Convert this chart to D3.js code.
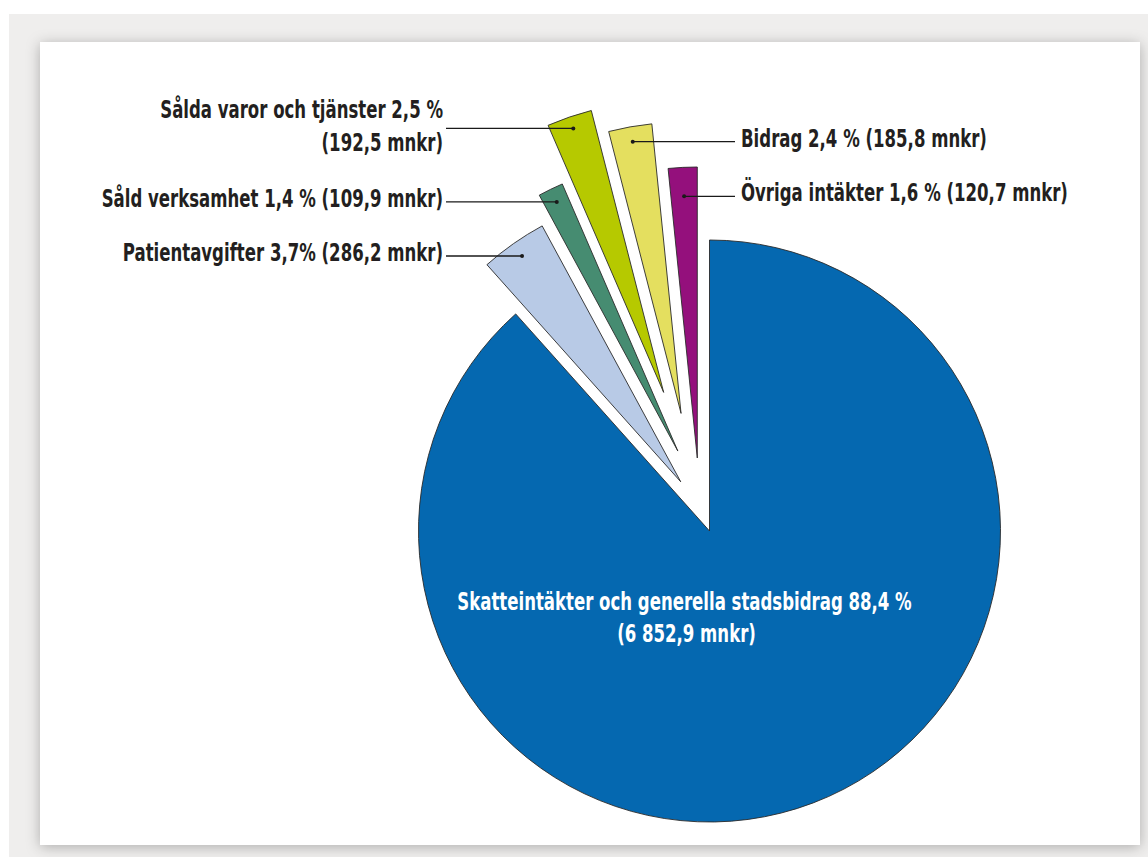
<!DOCTYPE html>
<html>
<head>
<meta charset="utf-8">
<script src="https://cdn.jsdelivr.net/npm/d3@7"></script>
<style>
  html, body { margin: 0; padding: 0; background: #fff; }
  svg { display: block; }
  text { font-family: 'Liberation Sans Narrow', 'DejaVu Sans Condensed', 'Roboto', sans-serif; font-weight: bold; }
</style>
</head>
<body>
<div class="svg-container"></div>
<script>
const categories = [
  'Skatteintäkter och generella stadsbidrag',
  'Patientavgifter',
  'Såld verksamhet',
  'Sålda varor och tjänster',
  'Bidrag',
  'Övriga intäkter'
]
const shares = [88.4, 3.7, 1.4, 2.5, 2.4, 1.6]
const amounts = ['6 852,9', '286,2', '109,9', '192,5', '185,8', '120,7']
const shareLabels = ['88,4 %', '3,7%', '1,4 %', '2,5 %', '2,4 %', '1,6 %']

const colors = ['#0568b0', '#b8cae6', '#468c71', '#b6c900', '#e4df5f', '#94107c']
// how far each slice is pulled out of the pie: [distance, direction in degrees]
const explode = [[0, 0], [57, 329.7], [86, 338.4], [146, 341.7], [121, 346.4], [74, 350.5]]
const labelSide = [null, 'left', 'left', 'left', 'right', 'right']
// distance from the slice tip to the leader dot
const dotRadius = [0, 276, 277, 279, 276, 262]

const width = 1148
const height = 857
const cx = 709.5
const cy = 531
const radius = 291
const squeeze = 0.767 // the original uses a condensed face

const svg = d3
  .select('.svg-container')
  .append('svg')
  .attr('width', width)
  .attr('height', height)

const defs = svg.append('defs')
const shadow = defs.append('filter')
  .attr('id', 'shadow')
  .attr('x', '-5%').attr('y', '-5%')
  .attr('width', '110%').attr('height', '110%')
shadow.append('feDropShadow')
  .attr('dx', 0)
  .attr('dy', 2)
  .attr('stdDeviation', 7)
  .attr('flood-color', '#000')
  .attr('flood-opacity', 0.28)

// page background and white panel
svg.append('rect')
  .attr('x', 9).attr('y', 14)
  .attr('width', width - 9).attr('height', height - 14)
  .attr('fill', '#efeeed')

svg.append('rect')
  .attr('x', 40).attr('y', 42)
  .attr('width', 1100).attr('height', 803)
  .attr('fill', '#fff')
  .attr('filter', 'url(#shadow)')

const pie = d3.pie().sort(null).value((d) => d)
const arcs = pie(shares)

const arc = d3.arc().innerRadius(0).outerRadius(radius)

const toRad = (deg) => deg * Math.PI / 180
const offset = (i) => {
  const [dist, deg] = explode[i]
  return [Math.sin(toRad(deg)) * dist, -Math.cos(toRad(deg)) * dist]
}

svg
  .append('g')
  .attr('transform', `translate(${cx}, ${cy})`)
  .selectAll('.slice')
  .data(arcs)
  .join('path')
  .classed('slice', true)
  .attr('transform', (d, i) => `translate(${offset(i)})`)
  .attr('d', arc)
  .attr('fill', (d, i) => colors[i])
  .attr('stroke', '#2a2a2a')
  .attr('stroke-width', 0.9)
  .attr('stroke-linejoin', 'round')

const labels = svg.append('g')

function addText(parent, str, x, y, anchor, fill) {
  return parent.append('g')
    .attr('transform', `translate(${x}, ${y}) scale(${squeeze}, 1)`)
    .append('text')
    .attr('text-anchor', anchor)
    .attr('fill', fill)
    .style('font-size', '24px')
    .text(str)
}

// leader lines and labels for the small slices
const leaders = svg.append('g').attr('transform', `translate(${cx}, ${cy})`)

arcs.forEach((d, i) => {
  if (!labelSide[i]) return
  const [ox, oy] = offset(i)
  const mid = (d.startAngle + d.endAngle) / 2
  const r = dotRadius[i]
  const px = ox + Math.sin(mid) * r
  const py = oy - Math.cos(mid) * r
  const left = labelSide[i] === 'left'
  const endX = left ? 446 - cx : 735 - cx

  leaders.append('line')
    .attr('x1', px).attr('y1', py)
    .attr('x2', endX).attr('y2', py)
    .attr('stroke', '#1a1a1a')
    .attr('stroke-width', 1.3)

  leaders.append('circle')
    .attr('cx', px).attr('cy', py)
    .attr('r', 2)
    .attr('fill', '#1a1a1a')

  const tx = left ? 443 : 741
  const anchor = left ? 'end' : 'start'
  const first = `${categories[i]} ${shareLabels[i]}`
  const second = `(${amounts[i]} mnkr)`
  if (categories[i].length > 20) {
    addText(labels, first, tx, cy + py - 10, anchor, '#231f20')
    addText(labels, second, tx, cy + py + 23, anchor, '#231f20')
  } else {
    addText(labels, `${first} ${second}`, tx, cy + py + 5, anchor, '#231f20')
  }
})

// label inside the big slice
addText(labels, `${categories[0]} ${shareLabels[0]}`, cx - 25, cy + 79, 'middle', '#fff')
addText(labels, `(${amounts[0]} mnkr)`, cx - 23, cy + 111, 'middle', '#fff')
</script>
</body>
</html>
